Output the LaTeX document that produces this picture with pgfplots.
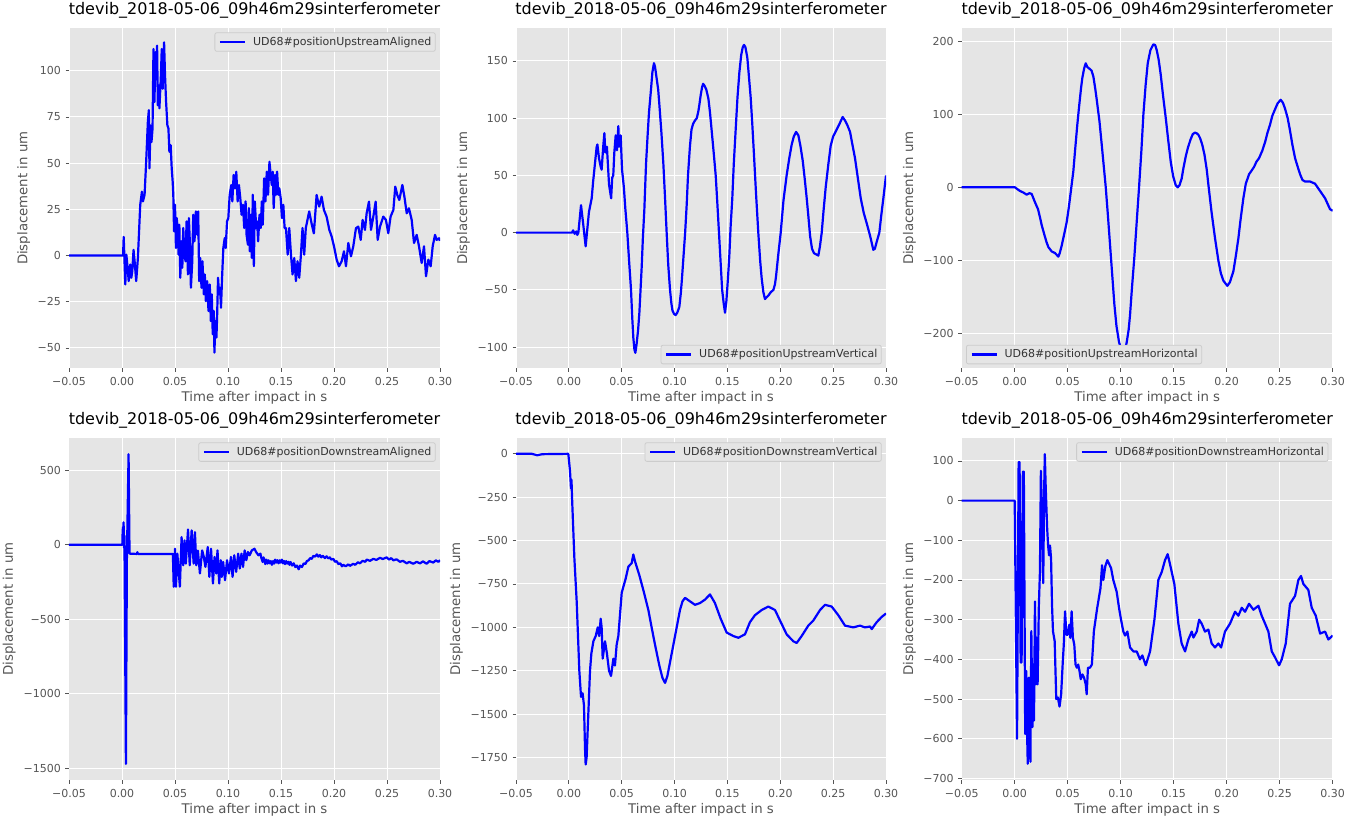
\documentclass[border=0pt]{standalone}
\usepackage{fontspec}
\setmainfont{DejaVu Sans}
\usepackage{pgfplots}
\pgfplotsset{compat=1.18}

\definecolor{ggbg}{HTML}{E5E5E5}
\definecolor{ggtick}{HTML}{555555}
\definecolor{ggleg}{HTML}{CCCCCC}
\definecolor{ggblue}{HTML}{0000FF}

\pgfplotsset{
  ggpanel/.style={
    scale only axis, width=371pt, height=340pt,
    xmin=-0.05, xmax=0.30,
    xtick={-0.05,0,0.05,0.10,0.15,0.20,0.25,0.30},
    xticklabels={−0.05,0.00,0.05,0.10,0.15,0.20,0.25,0.30},
    axis background/.style={fill=ggbg},
    axis line style={draw=none},
    grid=major, major grid style={white, line width=1pt},
    tick align=outside, tick pos=left, major tick length=3.5pt,
    major tick style={ggtick, line width=0.8pt},
    tick label style={font=\fontsize{11}{13}\selectfont, text=ggtick},
    xticklabel style={anchor=base, yshift=-14pt},
    yticklabel style={anchor=east, inner xsep=0pt, xshift=-4.5pt},
    label style={font=\fontsize{13.3}{16}\selectfont, text=ggtick},
    xlabel={Time after impact in s},
    ylabel={Displacement in um},
    xlabel style={at={([yshift=-33pt]axis description cs:0.5,0)}, anchor=base},
    title={tdevib\_2018-05-06\_09h46m29sinterferometer},
    title style={font=\fontsize{16}{19}\selectfont, text=black,
      at={([yshift=8pt]axis description cs:0.5,1)}, anchor=base},
    legend cell align=left,
    legend style={draw=ggleg, fill=ggbg, rounded corners=2pt, line width=0.8pt,
      font=\fontsize{11}{13}\selectfont, text=black!80,
      inner xsep=4pt, inner ysep=4.4pt,
      nodes={inner sep=0pt},
      /tikz/every odd column/.append style={column sep=7pt}},
    legend image code/.code={\draw[#1, line width=2.2pt, sharp corners] (0pt,0pt) -- (25pt,0pt);},
    no markers,
    every axis plot/.append style={ggblue, line width=2.2pt, line join=round, mark=none},
  },
  legNE/.style={legend style={at={(1,1)}, anchor=north east, xshift=-4.3pt, yshift=-4pt}},
  legSE/.style={legend style={at={(1,0)}, anchor=south east, xshift=-4.3pt, yshift=4pt}},
  legSW/.style={legend style={at={(0,0)}, anchor=south west, xshift=4.3pt, yshift=4pt}},
  ylab/.style={ylabel style={at={([xshift=-#1]axis description cs:0,0.5)}, anchor=base}},
}

\begin{document}
\begin{tikzpicture}
\useasboundingbox (0pt,0pt) rectangle (1349pt,817pt);

% ---------- upstream, aligned ----------
\begin{axis}[ggpanel, legNE, ylab=41.5pt,
  at={(69pt,448.7pt)}, anchor=south west,
  ymin=-61, ymax=123,
  ytick={-50,-25,0,25,50,75,100},
  yticklabels={−50,−25,0,25,50,75,100}]
\addplot coordinates {
(-0.05,0) (0.001,0) (0.0016,10.1) (0.0031,-15.6) (0.0041,0.5) (0.0053,-6.6) (0.0063,-13.8) (0.0078,-4.8) (0.0088,-12) (0.0097,-8.4) (0.0109,3.1) (0.0119,-3.1) (0.0134,-13.8) (0.015,-1.3) (0.0172,27.5) (0.0188,34.6) (0.0197,29.3) (0.0213,32.9) (0.0228,50.8) (0.0244,72.4) (0.0253,78.7) (0.0259,47.2) (0.0269,70.4) (0.0278,61.4) (0.0288,68.6) (0.0297,111.8) (0.0306,83.1) (0.0316,110.1) (0.0325,97.5) (0.0331,113.6) (0.0338,81.3) (0.0347,92.1) (0.0353,79.7) (0.0366,95.9) (0.0375,111.8) (0.0384,90.3) (0.0397,115.4) (0.0406,97.5) (0.0416,83.1) (0.0428,70.6) (0.0438,68.8) (0.0447,56.2) (0.0459,59.8) (0.0469,47.2) (0.0478,40.0) (0.0484,32.9) (0.0491,13.1) (0.05,27.5) (0.0509,4.1) (0.0516,20.3) (0.0525,14.9) (0.0534,0.5) (0.0541,16.7) (0.055,-12.0) (0.0559,7.7) (0.0569,-6.6) (0.0578,14.9) (0.0588,0.5) (0.06,-3.1) (0.0609,18.5) (0.0622,-10.2) (0.0631,20.3) (0.0641,5.9) (0.065,-17.4) (0.0663,-3.1) (0.0672,22.1) (0.0684,7.7) (0.0697,23.9) (0.0709,11.3) (0.0719,23.9) (0.0728,-13.8) (0.0738,-1.3) (0.075,-17.4) (0.0759,-3.1) (0.0772,-21.0) (0.0781,-10.2) (0.0791,-24.6) (0.0803,-13.8) (0.0816,-30.0) (0.0828,-15.6) (0.0838,-35.4) (0.0847,-21.0) (0.0856,-42.6) (0.0866,-30.0) (0.0872,-52.5) (0.0881,-35.4) (0.0891,-44.3) (0.0897,-33.6) (0.0906,-12.0) (0.0916,-21.0) (0.0925,-17.4) (0.0934,-28.2) (0.0944,-12.0) (0.0956,4.1) (0.0969,9.5) (0.0978,4.1) (0.0991,18.5) (0.1003,20.3) (0.1016,32.9) (0.1031,38.2) (0.1041,29.3) (0.1053,43.6) (0.1066,36.4) (0.1078,45.4) (0.1091,29.3) (0.1103,38.2) (0.1116,31.1) (0.1128,22.1) (0.1141,27.5) (0.1153,14.9) (0.1166,29.3) (0.1175,11.3) (0.1188,5.9) (0.1197,25.7) (0.1206,2.3) (0.1216,22.1) (0.1225,-1.3) (0.1234,32.9) (0.1244,-5.7) (0.1253,29.3) (0.1266,14.9) (0.1275,18.5) (0.1284,7.7) (0.1297,22.1) (0.1309,14.9) (0.1319,29.3) (0.1328,16.7) (0.1341,41.8) (0.1353,29.3) (0.1366,45.4) (0.1378,32.9) (0.1391,50.8) (0.1403,43.6) (0.1413,38.2) (0.1422,45.4) (0.1431,25.7) (0.1444,43.6) (0.1453,32.9) (0.1463,45.4) (0.1475,32.9) (0.1484,36.4) (0.1497,31.1) (0.1509,20.3) (0.1522,27.5) (0.1534,14.9) (0.1547,14.9) (0.1563,0.5) (0.1578,14.9) (0.1594,0.5) (0.1609,-10.2) (0.1625,-1.3) (0.1641,-13.8) (0.1656,-3.1) (0.1672,-12.0) (0.1688,0.5) (0.1703,14.9) (0.1719,0.5) (0.1734,14.9) (0.1766,23.9) (0.1790,17) (0.181,12) (0.1836,32.8) (0.186,26.5) (0.1883,31.9) (0.1905,24.7) (0.193,21.1) (0.1956,13.9) (0.1978,10.3) (0.2,5) (0.2025,-2.2) (0.2047,-5.8) (0.2072,-3.1) (0.2094,2.3) (0.2113,-5.8) (0.2135,6.8) (0.216,-0.4) (0.2182,5) (0.2207,14.8) (0.2229,15.7) (0.2252,8.5) (0.227,19.3) (0.2292,13.9) (0.2308,22.9) (0.233,29.2) (0.2349,13.9) (0.2371,21.1) (0.2393,29.2) (0.2412,8.5) (0.2434,15.7) (0.2465,21.1) (0.249,19.3) (0.2512,12.1) (0.2534,21.1) (0.256,24.7) (0.2578,37.3) (0.2597,32.8) (0.2616,30.1) (0.2645,38.2) (0.2664,31.9) (0.2686,22.9) (0.2707,25.6) (0.2733,19.3) (0.2755,6.8) (0.278,11.2) (0.2802,5) (0.2827,-4) (0.2849,5) (0.2868,-11.2) (0.289,-2.2) (0.2912,-5.8) (0.2931,5) (0.2953,11.2) (0.2969,8.5) (0.2991,9.4) (0.30,8)
};
\addlegendentry{UD68\#positionUpstreamAligned}
\end{axis}

% ---------- upstream, vertical ----------
\begin{axis}[ggpanel, legSE, ylab=49pt,
  at={(516pt,448.7pt)}, anchor=south west, width=370pt,
  ymin=-118.5, ymax=178.5,
  ytick={-100,-50,0,50,100,150},
  yticklabels={−100,−50,0,50,100,150}]
\addplot coordinates {
(-0.05,0) (0.003,0) (0.004,2) (0.0055,-1) (0.007,1) (0.008,-2) (0.009,0) (0.0115,24) (0.0135,8) (0.0159,-12) (0.019,18) (0.0216,30) (0.023,45) (0.0263,75) (0.027,77) (0.0285,65) (0.030,58) (0.031,55) (0.0325,75) (0.0336,87) (0.0345,70) (0.036,75) (0.038,42) (0.039,36) (0.040,30) (0.041,48) (0.042,50) (0.043,70) (0.0443,85) (0.0455,72) (0.0468,93) (0.0475,75) (0.049,85) (0.0503,55) (0.052,40) (0.0535,20) (0.0553,0) (0.057,-25) (0.0588,-50) (0.060,-75) (0.061,-92) (0.062,-102) (0.0629,-105) (0.064,-98) (0.0655,-85) (0.0667,-70) (0.0678,-50) (0.0689,-30) (0.070,-5) (0.0714,20) (0.073,60) (0.0745,85) (0.0758,105) (0.0777,125) (0.079,140) (0.0805,148) (0.0815,145) (0.083,135) (0.0845,125) (0.0856,112) (0.0875,88) (0.0894,60) (0.091,30) (0.0925,0) (0.094,-28) (0.0957,-50) (0.097,-62) (0.098,-68) (0.0995,-71) (0.101,-72) (0.1025,-70) (0.1045,-65) (0.106,-52) (0.107,-40) (0.1085,-20) (0.110,0) (0.1115,25) (0.1127,50) (0.1145,75) (0.116,90) (0.1175,95) (0.1193,98) (0.121,100) (0.1225,106) (0.1235,112) (0.1247,120) (0.126,127) (0.127,130) (0.1285,128) (0.13,125) (0.132,117) (0.1335,105) (0.135,90) (0.137,70) (0.1389,50) (0.1405,25) (0.142,0) (0.1435,-25) (0.145,-50) (0.1465,-62) (0.1477,-70) (0.149,-60) (0.1505,-40) (0.1518,-20) (0.153,5) (0.1546,30) (0.156,60) (0.1578,90) (0.1595,118) (0.1613,140) (0.163,155) (0.1645,162) (0.1657,164) (0.167,162) (0.1688,153) (0.170,140) (0.172,118) (0.1735,95) (0.175,70) (0.177,35) (0.1792,0) (0.181,-25) (0.1824,-40) (0.184,-52) (0.1855,-58) (0.1875,-56) (0.1887,-55) (0.191,-52) (0.1935,-50) (0.195,-45) (0.196,-38) (0.198,-20) (0.2004,0) (0.203,28) (0.206,50) (0.2085,65) (0.2108,77) (0.2128,84) (0.2149,88) (0.2171,85) (0.219,76) (0.2212,63) (0.223,48) (0.225,30) (0.2265,15) (0.2282,-3) (0.230,-14) (0.2319,-18) (0.234,-19) (0.236,-20) (0.2375,-12) (0.2392,0) (0.241,20) (0.243,40) (0.2455,60) (0.2477,76) (0.25,84) (0.2533,90) (0.256,95) (0.259,101) (0.2612,98) (0.2634,94) (0.266,88) (0.268,78) (0.2707,65) (0.273,50) (0.2761,30) (0.279,17) (0.2818,8) (0.285,-3) (0.288,-15) (0.2895,-14) (0.2912,-8) (0.2937,0) (0.2955,15) (0.2975,30) (0.299,42) (0.30,50)
};
\addlegendentry{UD68\#positionUpstreamVertical}
\end{axis}

% ---------- upstream, horizontal ----------
\begin{axis}[ggpanel, legSW, ylab=48.7pt,
  at={(961.7pt,448.7pt)}, anchor=south west,
  ymin=-248, ymax=218,
  ytick={-200,-100,0,100,200},
  yticklabels={−200,−100,0,100,200}]
\addplot coordinates {
(-0.05,0) (0.0003,0) (0.003,-3) (0.005,-5) (0.008,-7) (0.0113,-10) (0.014,-8) (0.016,-9) (0.019,-20) (0.022,-30) (0.024,-42) (0.0255,-52) (0.028,-65) (0.030,-75) (0.0318,-82) (0.035,-88) (0.038,-90) (0.0412,-95) (0.0425,-90) (0.0443,-80) (0.047,-62) (0.049,-48) (0.051,-28) (0.053,-5) (0.0553,22) (0.0575,60) (0.059,85) (0.0607,110) (0.0625,135) (0.0638,150) (0.0655,163) (0.067,170) (0.0685,165) (0.071,162) (0.0725,160) (0.0742,152) (0.076,135) (0.0774,120) (0.08,90) (0.082,60) (0.0859,0) (0.088,-40) (0.09,-80) (0.092,-120) (0.094,-160) (0.096,-190) (0.0984,-212) (0.1005,-222) (0.1025,-225) (0.1045,-220) (0.1057,-212) (0.1075,-195) (0.1088,-175) (0.1105,-140) (0.1129,-95) (0.1152,-45) (0.1173,0) (0.1195,50) (0.1214,100) (0.1235,140) (0.1255,170) (0.128,188) (0.1308,196) (0.1325,195) (0.134,188) (0.1358,175) (0.1377,155) (0.14,125) (0.1425,95) (0.1448,65) (0.1472,35) (0.1495,15) (0.1519,3) (0.1538,0) (0.1555,3) (0.1575,12) (0.159,25) (0.1613,42) (0.1635,55) (0.166,66) (0.168,73) (0.1701,75) (0.1718,74) (0.1733,72) (0.175,67) (0.177,58) (0.179,45) (0.1811,25) (0.183,0) (0.1858,-35) (0.189,-70) (0.1921,-100) (0.1945,-118) (0.1969,-128) (0.2006,-135) (0.203,-130) (0.2063,-115) (0.2085,-95) (0.211,-70) (0.213,-45) (0.2157,-15) (0.218,5) (0.2211,18) (0.2235,23) (0.2258,28) (0.228,35) (0.2305,40) (0.2335,50) (0.2362,62) (0.2385,75) (0.2409,86) (0.243,98) (0.2456,107) (0.248,115) (0.2509,120) (0.253,116) (0.255,108) (0.2575,95) (0.2597,78) (0.262,58) (0.2645,40) (0.267,28) (0.2692,18) (0.2715,10) (0.2739,8) (0.2786,8) (0.2833,5) (0.2881,-5) (0.2928,-15) (0.2975,-30) (0.30,-32)
};
\addlegendentry{UD68\#positionUpstreamHorizontal}
\end{axis}

% ---------- downstream, aligned ----------
\begin{axis}[ggpanel, legNE, ylab=56pt,
  at={(69pt,37pt)}, anchor=south west, height=341.7pt,
  ymin=-1579, ymax=714,
  ytick={-1500,-1000,-500,0,500},
  yticklabels={−1500,−1000,−500,0,500}]
\addplot coordinates {
(-0.05,0) (0.0003,0) (0.0006,80) (0.0009,118) (0.0012,40) (0.0015,150) (0.0019,-20) (0.0023,60) (0.0037,-1471) (0.0046,-100) (0.0062,607) (0.0071,-60) (0.014,-62) (0.0145,-50) (0.015,-62) (0.048,-62) (0.0488,-282) (0.05,-27) (0.0509,-282) (0.0522,-60) (0.0534,-171) (0.0546,-282) (0.0562,51) (0.0577,-138) (0.059,29) (0.0602,-127) (0.0623,102) (0.0639,-138) (0.0657,96) (0.0676,-127) (0.0688,84) (0.0701,-138) (0.0716,-40) (0.0735,-193) (0.0756,-38) (0.0772,-82) (0.0787,-149) (0.0809,-16) (0.0824,-216) (0.084,-27) (0.0858,-260) (0.0873,-82) (0.0889,-193) (0.0901,-38) (0.0917,-260) (0.0932,-104) (0.0941,-216) (0.0954,-116) (0.0972,-238) (0.0991,-104) (0.1009,-193) (0.1028,-82) (0.1043,-216) (0.1059,-71) (0.1077,-182) (0.1096,-60) (0.1111,-160) (0.1127,-60) (0.1142,-149) (0.1157,-38) (0.1173,-104) (0.1188,-49) (0.1204,-71) (0.1225,-38) (0.125,-27) (0.1265,-49) (0.1287,-71) (0.1306,-60) (0.1315,-90) (0.1327,-116) (0.1335,-85) (0.1343,-100) (0.1352,-130) (0.1362,-100) (0.1373,-127) (0.1383,-105) (0.1393,-125) (0.1404,-110) (0.1414,-135) (0.1425,-110) (0.1435,-127) (0.1445,-100) (0.1456,-120) (0.1466,-104) (0.1477,-125) (0.1487,-105) (0.1497,-120) (0.1508,-100) (0.1518,-125) (0.1528,-109) (0.1538,-130) (0.1549,-110) (0.1559,-127) (0.157,-115) (0.158,-135) (0.159,-116) (0.1605,-140) (0.162,-125) (0.1635,-150) (0.165,-140) (0.1667,-165) (0.168,-140) (0.1698,-150) (0.1715,-125) (0.173,-130) (0.1744,-110) (0.176,-105) (0.1775,-90) (0.179,-95) (0.1805,-75) (0.1821,-80) (0.1838,-65) (0.1852,-80) (0.1867,-70) (0.188,-85) (0.1895,-75) (0.1914,-90) (0.193,-78) (0.1947,-92) (0.196,-85) (0.1975,-100) (0.1994,-95) (0.201,-115) (0.2025,-110) (0.2041,-130) (0.206,-125) (0.2075,-145) (0.2088,-135) (0.211,-145) (0.2135,-132) (0.215,-142) (0.2182,-128) (0.22,-135) (0.2225,-118) (0.2245,-125) (0.227,-108) (0.2295,-115) (0.2308,-100) (0.234,-108) (0.2371,-95) (0.24,-102) (0.2434,-88) (0.246,-96) (0.2497,-85) (0.252,-100) (0.254,-90) (0.256,-105) (0.259,-98) (0.2623,-115) (0.265,-108) (0.2686,-125) (0.271,-115) (0.2748,-128) (0.278,-115) (0.2811,-125) (0.284,-112) (0.2874,-128) (0.29,-110) (0.2937,-120) (0.296,-105) (0.2985,-115) (0.30,-104)
};
\addlegendentry{UD68\#positionDownstreamAligned}
\end{axis}

% ---------- downstream, vertical ----------
\begin{axis}[ggpanel, legNE, ylab=56pt,
  at={(516pt,37pt)}, anchor=south west, width=370pt, height=341.7pt,
  ymin=-1879.5, ymax=89.5,
  ytick={-1750,-1500,-1250,-1000,-750,-500,-250,0},
  yticklabels={−1750,−1500,−1250,−1000,−750,−500,−250,0}]
\addplot coordinates {
(-0.05,0) (-0.035,0) (-0.03,-8) (-0.025,-2) (-0.0005,0) (0.0011,-100) (0.002,-200) (0.0025,-150) (0.003,-250) (0.0052,-600) (0.0074,-850) (0.0099,-1250) (0.0115,-1400) (0.013,-1380) (0.0143,-1450) (0.0153,-1700) (0.0159,-1790) (0.0168,-1750) (0.0184,-1500) (0.02,-1250) (0.0213,-1150) (0.0232,-1080) (0.0254,-1050) (0.0273,-1000) (0.0287,-1050) (0.0301,-950) (0.031,-1000) (0.032,-1180) (0.0342,-1080) (0.036,-1150) (0.038,-1250) (0.0399,-1280) (0.0421,-1180) (0.0436,-1220) (0.0452,-1100) (0.0468,-1050) (0.05,-800) (0.0537,-720) (0.0563,-650) (0.0594,-630) (0.061,-580) (0.0626,-620) (0.0667,-700) (0.0711,-800) (0.0752,-900) (0.0783,-1000) (0.0815,-1100) (0.0856,-1220) (0.0885,-1290) (0.091,-1320) (0.0932,-1280) (0.0973,-1150) (0.102,-1000) (0.1051,-900) (0.1075,-850) (0.1099,-830) (0.1146,-850) (0.1193,-870) (0.124,-860) (0.1288,-840) (0.1335,-810) (0.1382,-860) (0.1436,-950) (0.1493,-1030) (0.1556,-1050) (0.1603,-1060) (0.1666,-1040) (0.1713,-970) (0.176,-930) (0.1824,-900) (0.1887,-880) (0.195,-900) (0.1997,-960) (0.206,-1040) (0.2123,-1080) (0.2155,-1090) (0.2202,-1050) (0.2265,-990) (0.2313,-960) (0.2376,-900) (0.2423,-870) (0.2486,-880) (0.2549,-930) (0.2612,-990) (0.2691,-1000) (0.2754,-990) (0.2801,-1000) (0.2849,-995) (0.2865,-1010) (0.2912,-970) (0.2959,-940) (0.30,-920)
};
\addlegendentry{UD68\#positionDownstreamVertical}
\end{axis}

% ---------- downstream, horizontal ----------
\begin{axis}[ggpanel, legNE, ylab=48.7pt,
  at={(961.7pt,37pt)}, anchor=south west, height=341.7pt,
  ymin=-704, ymax=157,
  ytick={-700,-600,-500,-400,-300,-200,-100,0,100},
  yticklabels={−700,−600,−500,−400,−300,−200,−100,0,100}]
\addplot coordinates {
(-0.05,0) (0.0,0) (0.0022,-600) (0.0037,97) (0.0046,97) (0.0056,-408) (0.0065,-408) (0.0077,73) (0.0086,73) (0.0099,-588) (0.0108,-429) (0.0117,-588) (0.0123,-663) (0.0133,-446) (0.0142,-579) (0.0148,-658) (0.0157,-329) (0.0167,-571) (0.0173,-413) (0.0182,-554) (0.0191,-254) (0.0201,-463) (0.021,-346) (0.0216,-463) (0.0228,-263) (0.0238,-179) (0.0247,75) (0.0256,-12) (0.0269,-208) (0.0278,29) (0.0284,117) (0.0293,29) (0.0306,-69) (0.0315,-113) (0.0324,-138) (0.0333,-113) (0.0343,-146) (0.0352,-263) (0.0361,-329) (0.0377,-354) (0.0392,-500) (0.0407,-496) (0.0423,-519) (0.0438,-488) (0.0454,-404) (0.0463,-363) (0.0475,-279) (0.0488,-338) (0.05,-338) (0.0515,-313) (0.0525,-346) (0.0537,-279) (0.0549,-346) (0.0562,-363) (0.0574,-413) (0.0586,-421) (0.0599,-413) (0.0611,-429) (0.0623,-450) (0.0639,-438) (0.0654,-446) (0.067,-463) (0.0679,-488) (0.0691,-421) (0.071,-421) (0.0728,-413) (0.0747,-329) (0.0778,-271) (0.0809,-221) (0.0824,-163) (0.0836,-200) (0.0855,-165) (0.0874,-150) (0.0909,-170) (0.093,-200) (0.0962,-230) (0.0984,-270) (0.1003,-300) (0.1025,-330) (0.1041,-340) (0.1063,-330) (0.1088,-370) (0.112,-380) (0.1151,-380) (0.1182,-400) (0.1204,-390) (0.1236,-415) (0.1277,-380) (0.1318,-300) (0.1355,-200) (0.1387,-180) (0.1418,-150) (0.1443,-135) (0.1465,-160) (0.1506,-210) (0.1544,-310) (0.1575,-360) (0.1607,-380) (0.1638,-350) (0.167,-330) (0.1686,-345) (0.1717,-330) (0.174,-300) (0.1764,-310) (0.1795,-330) (0.1827,-325) (0.1858,-360) (0.189,-370) (0.1921,-360) (0.1947,-370) (0.1984,-330) (0.2031,-310) (0.2079,-280) (0.211,-290) (0.2142,-270) (0.2173,-280) (0.2211,-260) (0.2252,-275) (0.2299,-265) (0.233,-290) (0.2362,-310) (0.2393,-330) (0.2425,-380) (0.2456,-395) (0.2494,-415) (0.2519,-400) (0.2557,-360) (0.2597,-260) (0.2645,-240) (0.2676,-200) (0.2701,-190) (0.2723,-210) (0.277,-225) (0.2802,-270) (0.284,-290) (0.2881,-335) (0.2928,-330) (0.2959,-350) (0.30,-340)
};
\addlegendentry{UD68\#positionDownstreamHorizontal}
\end{axis}
\end{tikzpicture}
\end{document}
